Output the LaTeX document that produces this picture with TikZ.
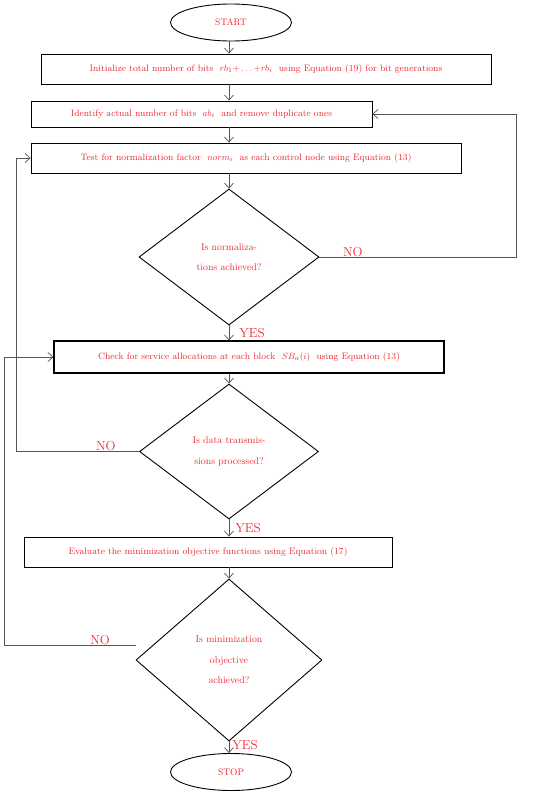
\documentclass[tikz,border=0pt]{standalone}
\usepackage{amsmath}
\usetikzlibrary{arrows.meta,shapes.geometric}
\definecolor{labelred}{RGB}{238,40,48}
\definecolor{wire}{RGB}{85,85,85}

\begin{document}
\begin{tikzpicture}[x=1pt,y=-1pt,
    stepbox/.style={draw=black,line width=0.9pt,inner sep=0pt,text=labelred,font=\fontsize{9.3}{10}\selectfont},
    term/.style={ellipse,draw=black,line width=0.9pt,minimum width=121pt,minimum height=37pt,inner sep=0pt,text=labelred,font=\fontsize{9.5}{10}\selectfont},
    decide/.style={diamond,draw=black,line width=0.9pt,inner sep=0pt,text=labelred,align=center,font=\fontsize{9.8}{20.5}\selectfont},
    flow/.style={wire,line width=0.7pt,-{Straight Barb[length=5pt,width=9pt]}},
    answer/.style={text=labelred,inner sep=1pt,font=\fontsize{13}{13}\selectfont}]
        \useasboundingbox (0,0) rectangle (550,798);
        \coordinate (spine) at (229,0);
        \coordinate (rloop) at (516,0);
        \coordinate (lloop) at (16,0);
        \coordinate (outer) at (4,0);
        % steps of the flow
        \node[term] (start) at (231,22.5) {START};
        \node[stepbox,minimum width=450pt,minimum height=30pt] (init) at (266,69)
          {Initialize total number of bits \ $rb_1{+}\ldots{+}rb_i$ \ using Equation (19) for bit generations};
        \node[stepbox,minimum width=341pt,minimum height=26pt] (ident) at (201.5,114)
          {Identify actual number of bits \ $ab_i$ \ and remove duplicate ones};
        \node[stepbox,minimum width=430pt,minimum height=30pt] (test) at (246,158)
          {Test for normalization factor \ $norm_i$ \ as each control node using Equation (13)};
        \node[decide,minimum width=180pt,minimum height=136pt] (normq) at (229,257)
          {Is normaliza-\\tions achieved?};
        \node[stepbox,minimum width=390pt,minimum height=32pt,line width=1.1pt] (check) at (249,357)
          {Check for service allocations at each block \ $SB_a(i)$ \ using Equation (13)};
        \node[decide,minimum width=179pt,minimum height=135pt] (dataq) at (229,451.5)
          {Is data transmis-\\sions processed?};
        \node[stepbox,minimum width=368pt,minimum height=30pt] (eval) at (208,552)
          {Evaluate the minimization objective functions using Equation (17)};
        \node[decide,minimum width=186pt,minimum height=162pt] (minq) at (229,660)
          {Is minimization\\objective\\achieved?};
        \node[term] (stop) at (231,772) {STOP};
        % connectors
        \draw[flow] (start.south -| spine) -- (spine |- init.north);
        \draw[flow] (spine |- init.south) -- (spine |- ident.north);
        \draw[flow] (spine |- ident.south) -- (spine |- test.north);
        \draw[flow] (spine |- test.south) -- (normq.north);
        \draw[flow] (normq.south) -- node[answer,right,xshift=9pt,pos=0.5]{YES} (spine |- check.north);
        \draw[flow] (spine |- check.south) -- (dataq.north);
        \draw[flow] (dataq.south) -- node[answer,right,xshift=5pt,pos=0.5]{YES} (spine |- eval.north);
        \draw[flow] (spine |- eval.south) -- (minq.north);
        \draw[flow] (minq.south) -- node[answer,right,xshift=2pt,pos=0.3]{YES} (spine |- stop.north);
        % loops back
        \draw[flow] (normq.east) -- node[answer,anchor=base,yshift=1pt,pos=0.17]{NO} (normq.east -| rloop) |- (ident.east);
        \draw[flow] (dataq.west) -- node[answer,anchor=base,yshift=1pt,pos=0.27]{NO} (dataq.west -| lloop) |- (test.west);
        \draw[flow] ([yshift=15pt]minq.west) -- node[answer,anchor=base,yshift=1pt,pos=0.27]{NO} ([yshift=15pt]minq.west -| outer) |- (check.west);
\end{tikzpicture}
\end{document}
